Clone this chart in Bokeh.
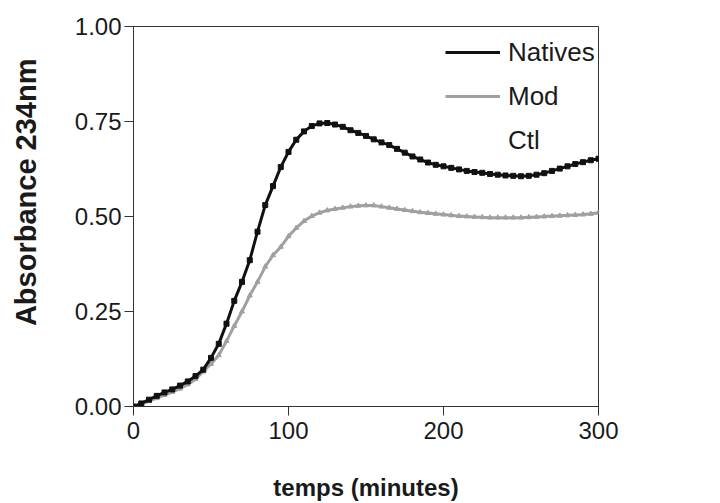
from bokeh.plotting import figure
from bokeh.models import Range1d, FixedTicker, NumeralTickFormatter, Legend, LegendItem
from bokeh.embed import file_html
from bokeh.resources import INLINE

# time (minutes)
minutes = list(range(0, 301, 5))

natives = [0.000, 0.008, 0.018, 0.028, 0.037, 0.045, 0.055, 0.066, 0.080, 0.097,
           0.128, 0.165, 0.218, 0.278, 0.328, 0.385, 0.460, 0.530, 0.580, 0.630,
           0.670, 0.702, 0.724, 0.738, 0.745, 0.746, 0.742, 0.736, 0.727, 0.720,
           0.712, 0.703, 0.695, 0.688, 0.678, 0.668, 0.658, 0.650, 0.642, 0.636,
           0.632, 0.628, 0.624, 0.620, 0.617, 0.615, 0.612, 0.610, 0.608, 0.607,
           0.606, 0.607, 0.610, 0.614, 0.620, 0.626, 0.632, 0.638, 0.643, 0.648,
           0.652]

mod = [0.000, 0.006, 0.014, 0.022, 0.030, 0.038, 0.047, 0.058, 0.072, 0.092,
       0.112, 0.135, 0.172, 0.212, 0.250, 0.292, 0.328, 0.368, 0.398, 0.420,
       0.448, 0.470, 0.488, 0.501, 0.510, 0.516, 0.520, 0.523, 0.526, 0.528,
       0.529, 0.529, 0.526, 0.523, 0.520, 0.517, 0.514, 0.511, 0.509, 0.507,
       0.505, 0.503, 0.501, 0.500, 0.499, 0.498, 0.497, 0.497, 0.497, 0.497,
       0.497, 0.498, 0.499, 0.500, 0.501, 0.502, 0.503, 0.504, 0.505, 0.507,
       0.510]

ctl_x = []
ctl_y = []

x_ticks = [0, 100, 200, 300]
y_ticks = [0.0, 0.25, 0.5, 0.75, 1.0]

FONT = "Liberation Sans"

p = figure(width=720, height=503, output_backend="svg", toolbar_location=None,
           x_range=Range1d(0, 300), y_range=Range1d(0, 1),
           min_border_left=133, min_border_right=122, min_border_top=26,
           min_border_bottom=95)

p.grid.visible = False
p.outline_line_color = "#333333"
p.outline_line_width = 1
p.background_fill_color = "white"
p.border_fill_color = "white"

for ax in (p.xaxis[0], p.yaxis[0]):
    ax.axis_line_color = "#333333"
    ax.major_tick_line_color = "#333333"
    ax.minor_tick_line_color = None
    ax.major_tick_out = 9
    ax.major_tick_in = 0
    ax.major_label_text_font = FONT
    ax.major_label_text_font_size = "24px"
    ax.major_label_text_color = "#1a1a1a"
    ax.axis_label_text_font = FONT
    ax.axis_label_text_font_style = "bold"
    ax.axis_label_text_color = "#1a1a1a"

p.xaxis.ticker = FixedTicker(ticks=x_ticks)
p.yaxis.ticker = FixedTicker(ticks=y_ticks)
p.yaxis.formatter = NumeralTickFormatter(format="0.00")
p.xaxis.major_label_standoff = 6
p.yaxis.major_label_standoff = 3
p.xaxis.axis_label = "temps (minutes)"
p.yaxis.axis_label = "\u00a0" * 6 + "Absorbance 234nm"
p.xaxis.axis_label_text_font_size = "24px"
p.yaxis.axis_label_text_font_size = "29px"
p.xaxis.axis_label_standoff = 32
p.yaxis.axis_label_standoff = 30

mod_line = p.line(minutes, mod, line_color="#a0a0a0", line_width=3)
mod_pts = p.scatter(minutes, mod, marker="triangle", size=5,
                    fill_color="#a0a0a0", line_color="#a0a0a0")
nat_line = p.line(minutes, natives, line_color="#111111", line_width=3)
nat_pts = p.scatter(minutes, natives, marker="square", size=5,
                    fill_color="#111111", line_color="#111111")
ctl_line = p.line(ctl_x, ctl_y, line_color="white", line_alpha=0)

legend = Legend(items=[
    LegendItem(label="Natives", renderers=[nat_line]),
    LegendItem(label="Mod", renderers=[mod_line]),
    LegendItem(label="Ctl", renderers=[ctl_line]),
], location=(312, 244))
legend.border_line_color = None
legend.background_fill_alpha = 0
legend.padding = 0
legend.margin = 0
legend.spacing = 0
legend.glyph_width = 55
legend.glyph_height = 44
legend.label_height = 44
legend.label_standoff = 8
legend.label_text_font = FONT
legend.label_text_font_size = "26px"
legend.label_text_color = "#1a1a1a"
p.add_layout(legend, "center")

open("out.html", "w").write(file_html(p, INLINE))
